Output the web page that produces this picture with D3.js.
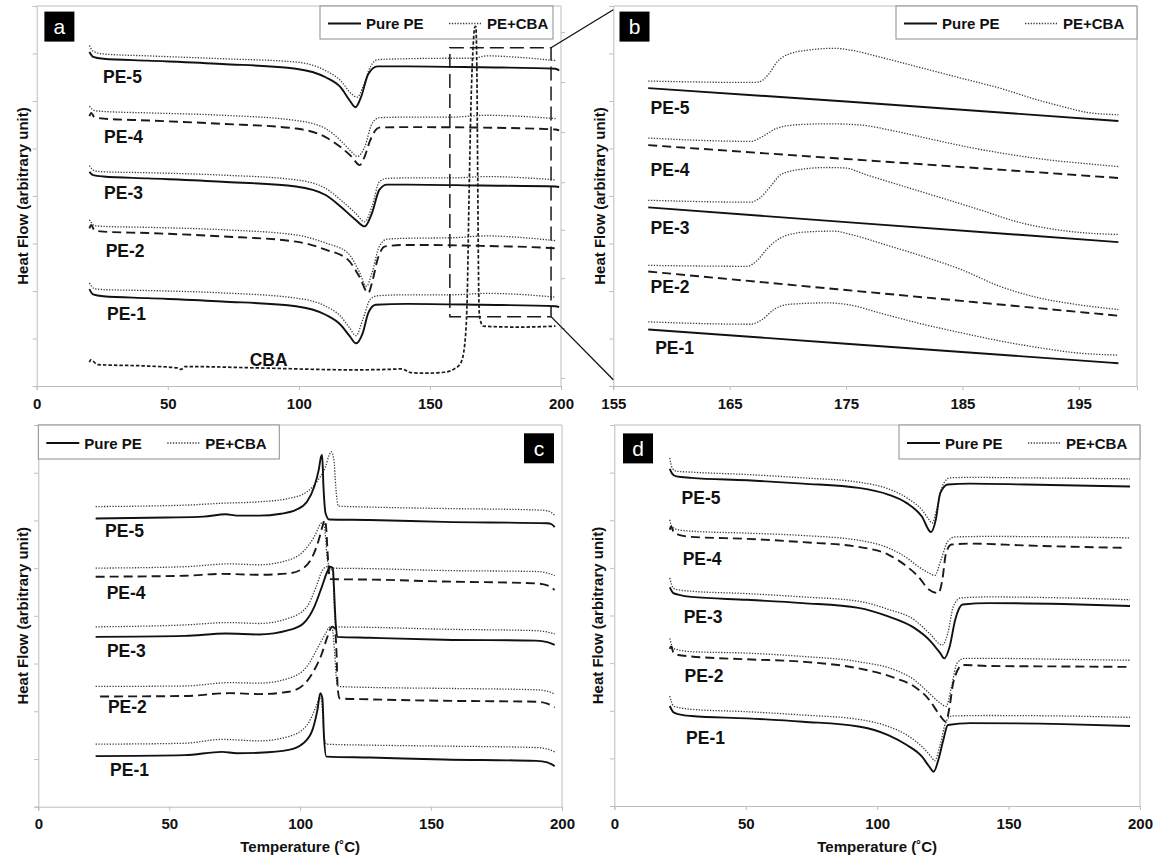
<!DOCTYPE html>
<html><head><meta charset="utf-8">
<script src="https://cdnjs.cloudflare.com/ajax/libs/d3/7.8.5/d3.min.js"></script>
<style>body{margin:0;background:#fff;} svg{display:block;} text{font-family:"Liberation Sans",Arial,sans-serif;}</style>
</head><body><svg id="chart" width="1161" height="855"></svg>
<script>
// ---------------- DATA ----------------
const xTicksMain = [0, 50, 100, 150, 200];
const xTicksZoom = [155, 165, 175, 185, 195];
const yTicks = [0, 1, 2, 3, 4, 5, 6, 7, 8];
const a_rightTicks = [0.17, 1.22, 2.27, 3.29, 4.29, 5.35, 6.40, 7.45];
const sampleNames = ["PE-5", "PE-4", "PE-3", "PE-2", "PE-1"];
const legendNames = ["Pure PE", "PE+CBA"];
const panelTags = ["a", "b", "c", "d"];
const yTitle = "Heat Flow (arbitrary unit)";
const xTitle = "Temperature (˚C)";

// Panel a : heating scans 0-200 C  [T, heat flow (arb.)]
const a_PE5_pure = [[20.1,7.03],[21.5,6.93],[25.4,6.89],[42.4,6.85],[70.7,6.78],[98.9,6.68],[110.2,6.50],[115.9,6.29],[119.4,6.01],[121.6,5.87],[123.7,6.08],[126.5,6.57],[130.0,6.73],[141.3,6.73],[169.6,6.71],[197.9,6.68],[199.3,6.64]];
const a_PE5_cba = [[20.1,7.17],[21.5,7.05],[25.4,6.99],[42.4,6.95],[70.7,6.89],[98.9,6.82],[110.2,6.64],[115.9,6.43],[120.1,6.15],[122.3,6.08],[124.4,6.29],[127.2,6.71],[130.0,6.87],[141.3,6.89],[158.3,6.90],[166,6.90],[172,6.95],[183.7,6.92],[197.9,6.85]];
const a_PE4_pure = [[20.1,5.68],[20.8,5.75],[22,5.66],[25.4,5.63],[42.4,5.59],[70.7,5.52],[98.9,5.42],[110.2,5.24],[115.9,5.03],[120.1,4.83],[123.2,4.65],[125.1,4.83],[127.2,5.17],[130.7,5.44],[141.3,5.45],[169.6,5.44],[197.9,5.40],[199.3,5.38]];
const a_PE4_cba = [[20.1,5.89],[22,5.80],[25.4,5.78],[42.4,5.75],[70.7,5.70],[98.9,5.59],[110.2,5.42],[115.9,5.17],[120.1,4.93],[122.3,4.83],[125.1,5.03],[127.9,5.52],[130.7,5.65],[141.3,5.66],[158,5.66],[172,5.70],[183.7,5.68],[197.9,5.63]];
const a_PE3_pure = [[20.1,4.51],[21.5,4.44],[25.4,4.41],[42.4,4.37],[70.7,4.30],[98.9,4.20],[110.2,4.02],[115.9,3.78],[121.6,3.50],[125.1,3.36],[127.9,3.64],[130.7,4.13],[133.6,4.24],[141.3,4.24],[169.6,4.22],[197.9,4.20],[199.3,4.19]];
const a_PE3_cba = [[20.1,4.64],[22,4.53],[25.4,4.51],[42.4,4.49],[70.7,4.44],[98.9,4.34],[110.2,4.16],[115.9,3.92],[121.6,3.64],[125.1,3.46],[127.9,3.78],[130.7,4.30],[133.6,4.37],[141.3,4.38],[158,4.38],[172,4.41],[183.7,4.39],[197.9,4.34]];
const a_PE2_pure = [[20.1,3.32],[20.8,3.39],[22,3.28],[25.4,3.25],[42.4,3.22],[70.7,3.15],[98.9,3.04],[110.2,2.87],[118.7,2.66],[123.0,2.31],[126.5,1.96],[127.9,2.17],[130.0,2.66],[132.9,2.94],[141.3,2.97],[169.6,2.95],[197.9,2.90],[199.3,2.89]];
const a_PE2_cba = [[20.1,3.50],[22,3.38],[25.4,3.36],[42.4,3.34],[70.7,3.29],[98.9,3.18],[110.2,3.01],[118.7,2.80],[123.0,2.41],[125.8,2.10],[127.9,2.38],[130.7,2.94],[133.6,3.09],[141.3,3.11],[158,3.12],[172,3.16],[183.7,3.13],[197.9,3.06]];
const a_PE1_pure = [[20.1,2.04],[21.5,1.93],[25.4,1.89],[42.4,1.85],[70.7,1.78],[98.9,1.68],[110.2,1.50],[115.9,1.29],[119.4,1.05],[121.8,0.90],[124.4,1.12],[126.5,1.54],[129.3,1.71],[141.3,1.73],[169.6,1.71],[197.9,1.68],[199.3,1.66]];
const a_PE1_cba = [[20.1,2.17],[22,2.05],[25.4,2.03],[42.4,2.01],[70.7,1.96],[98.9,1.85],[110.2,1.68],[115.9,1.47],[119.4,1.22],[121.8,1.06],[124.4,1.40],[127.2,1.82],[130.0,1.90],[141.3,1.92],[158,1.92],[172,1.95],[183.7,1.93],[197.9,1.87]];
const a_CBA = [[20.1,0.50],[20.6,0.55],[23.3,0.45],[42.4,0.42],[53.7,0.38],[55.1,0.35],[56.5,0.41],[84.8,0.38],[120.1,0.34],[134.3,0.35],[139.2,0.36],[142.8,0.28],[148.4,0.27],[155.5,0.29],[159.0,0.35],[161.8,0.49],[163.2,0.84],[164.2,1.82],[164.9,3.92],[165.7,6.01],[166.4,7.06],[167.1,7.55],[167.5,7.57],[167.9,6.71],[168.2,4.62],[168.5,2.52],[168.9,1.47],[170.3,1.26],[183.7,1.24],[197.9,1.26]];
const a_zoomBox = [157.6, 196.2, 1.46, 7.12];   // T1, T2, low, high

// Panel b : detail 155-200 C
const b_PE5_pure = [[158,6.27],[175,5.99],[198.4,5.58]];
const b_PE5_cba = [[158.0,6.42],[166.8,6.39],[167.5,6.40],[168.3,6.55],[169.1,6.83],[170.1,6.99],[171.7,7.07],[174.0,7.11],[175.4,7.07],[178.3,6.90],[181.6,6.69],[184.9,6.48],[188.2,6.27],[191.5,6.02],[193.8,5.87],[195.7,5.76],[198.4,5.71]];
const b_PE4_pure = [[158,5.07],[175,4.78],[198.4,4.38]];
const b_PE4_cba = [[158,5.22],[166.8,5.15],[167.8,5.25],[169.1,5.43],[170.8,5.50],[173.4,5.52],[176.0,5.50],[179.3,5.36],[182.6,5.18],[185.9,5.01],[189.2,4.87],[192.4,4.76],[195.7,4.68],[198.4,4.62]];
const b_PE3_pure = [[158,3.76],[175,3.45],[198.4,3.03]];
const b_PE3_cba = [[158,3.91],[166.8,3.87],[167.6,3.96],[168.5,4.20],[169.4,4.45],[170.8,4.55],[173.4,4.60],[174.9,4.59],[176.7,4.45],[180.0,4.20],[183.2,3.96],[186.5,3.71],[189.8,3.45],[193.1,3.29],[195.7,3.22],[198.4,3.19]];
const b_PE2_pure = [[158,2.41],[175,2.02],[198.4,1.48]];
const b_PE2_cba = [[158,2.54],[166.5,2.52],[167.3,2.63],[168.3,2.91],[169.4,3.12],[171.4,3.24],[174.0,3.26],[175.4,3.19],[178.3,2.98],[181.6,2.73],[184.9,2.45],[188.2,2.10],[191.5,1.86],[194.7,1.72],[198.4,1.61]];
const b_PE1_pure = [[158,1.19],[175,0.89],[198.4,0.48]];
const b_PE1_cba = [[158,1.35],[166.8,1.30],[167.8,1.40],[168.8,1.61],[170.1,1.72],[173.4,1.75],[175.0,1.72],[178.3,1.51],[181.6,1.30],[184.9,1.12],[188.2,0.95],[191.5,0.81],[194.7,0.70],[198.4,0.65]];

// Panel c : cooling scans
const c_PE5_pure = [[21.9,6.04],[49.0,6.06],[63.1,6.08],[71.6,6.13],[75.8,6.10],[84.3,6.10],[92.7,6.14],[98.4,6.22],[102.6,6.39],[105.4,6.71],[107.1,7.06],[108.0,7.34],[108.4,7.37],[108.9,6.71],[109.7,6.15],[111.1,6.02],[126.6,6.01],[154.8,5.97],[194.4,5.94],[196,5.92],[197.2,5.86]];
const c_PE5_cba = [[21.9,6.29],[56.0,6.32],[70.1,6.36],[84.3,6.39],[95.6,6.46],[102.6,6.60],[106.9,6.85],[109.7,7.13],[111.1,7.37],[111.8,7.44],[112.9,7.27],[113.6,6.71],[114.6,6.30],[126.6,6.28],[154.8,6.25],[190.1,6.22],[194.4,6.20],[197.2,6.11]];
const c_PE4_pure = [[21.9,4.82],[56.0,4.84],[70.1,4.88],[84.3,4.86],[95.6,4.89],[101.2,5.00],[104.7,5.24],[107.1,5.59],[108.5,5.87],[109.4,6.01],[110.0,5.80],[110.5,5.31],[111.4,4.77],[126.6,4.76],[154.8,4.72],[190.1,4.68],[194.4,4.64],[197.2,4.54]];
const c_PE4_cba = [[21.9,5.00],[56.0,5.03],[73.0,5.09],[84.3,5.07],[95.6,5.17],[101.2,5.35],[105.4,5.66],[108.0,5.94],[108.9,5.97],[109.7,5.66],[110.4,5.17],[111.8,5.00],[126.6,4.99],[154.8,4.95],[190.1,4.93],[194.4,4.90],[197.2,4.84]];
const c_PE3_pure = [[21.9,3.56],[56.0,3.58],[71.6,3.63],[84.3,3.61],[95.6,3.70],[101.2,3.84],[105.4,4.19],[108.3,4.61],[110.4,4.93],[111.5,5.03],[112.5,5.00],[112.9,4.61],[113.5,3.91],[114.2,3.56],[126.6,3.54],[154.8,3.50],[190.1,3.48],[194.4,3.45],[197.2,3.39]];
const c_PE3_cba = [[21.9,3.77],[56.0,3.81],[73.0,3.86],[84.3,3.84],[95.6,3.95],[102.6,4.19],[106.1,4.61],[108.3,4.93],[110.0,5.03],[111.1,4.98],[112.5,4.95],[113.0,4.20],[113.6,3.77],[126.6,3.76],[154.8,3.72],[190.1,3.69],[194.4,3.66],[197.2,3.62]];
const c_PE2_pure = [[23.6,2.31],[56.0,2.32],[73.0,2.38],[84.3,2.36],[95.6,2.41],[101.2,2.55],[104.7,2.80],[108.3,3.21],[110.4,3.56],[112.2,3.77],[113.2,3.74],[113.9,3.21],[114.3,2.52],[115.0,2.27],[126.6,2.25],[154.8,2.22],[190.1,2.20],[194.4,2.16],[197.2,2.08]];
const c_PE2_cba = [[21.9,2.52],[56.0,2.53],[73.0,2.60],[84.3,2.59],[95.6,2.69],[102.6,2.94],[106.9,3.35],[109.7,3.63],[111.4,3.77],[112.2,3.74],[113.2,3.21],[113.9,2.66],[114.6,2.52],[126.6,2.50],[154.8,2.48],[190.1,2.45],[194.4,2.42],[197.2,2.36]];
const c_PE1_pure = [[21.9,1.06],[56.0,1.08],[70.1,1.15],[75.8,1.12],[84.3,1.13],[95.6,1.19],[101.2,1.33],[104.7,1.61],[106.6,2.03],[107.7,2.38],[108.5,2.27],[109.1,1.47],[110.0,1.05],[126.6,1.03],[154.8,0.99],[190.1,0.96],[194.4,0.93],[197.2,0.85]];
const c_PE1_cba = [[21.9,1.31],[56.0,1.33],[70.1,1.41],[84.3,1.38],[95.6,1.47],[102.6,1.71],[106.1,2.10],[107.7,2.31],[108.5,2.03],[109.1,1.47],[110.0,1.31],[126.6,1.29],[154.8,1.27],[190.1,1.24],[194.4,1.21],[197.2,1.15]];

// Panel d : second heating
const d_PE5_pure = [[21.1,7.08],[22,6.98],[23.6,6.92],[29.3,6.89],[50.5,6.84],[71.7,6.77],[92.9,6.68],[104.2,6.54],[111.3,6.36],[117.0,6.08],[120.5,5.75],[122.3,6.01],[124.0,6.57],[126.9,6.75],[135.4,6.77],[156.6,6.75],[196.2,6.71]];
const d_PE5_cba = [[21.1,7.31],[22,7.10],[23.6,7.03],[29.3,7.01],[50.5,6.96],[71.7,6.89],[92.9,6.80],[104.2,6.66],[111.3,6.47],[117.0,6.22],[119.8,6.01],[120.9,5.94],[122.6,6.22],[124.8,6.71],[127.6,6.89],[135.4,6.90],[156.6,6.89],[196.2,6.87]];
const d_PE4_pure = [[21.1,5.80],[21.6,5.87],[22.5,5.76],[24.3,5.70],[29.3,5.65],[50.5,5.61],[71.7,5.54],[92.9,5.44],[104.2,5.28],[111.3,5.03],[115.6,4.82],[119.8,4.54],[123.3,4.47],[124.8,4.75],[126.2,5.31],[128.3,5.49],[135.4,5.51],[156.6,5.47],[194.1,5.42]];
const d_PE4_cba = [[21.1,6.01],[22,5.86],[24.3,5.80],[29.3,5.77],[50.5,5.73],[71.7,5.68],[92.9,5.58],[104.2,5.42],[111.3,5.21],[115.6,5.03],[119.8,4.89],[121.9,4.84],[124.3,5.17],[126.9,5.56],[129.7,5.65],[142.4,5.66],[170.7,5.65],[196.2,5.63]];
const d_PE3_pure = [[21.1,4.59],[22.5,4.47],[24.3,4.44],[29.3,4.39],[50.5,4.33],[71.7,4.26],[92.9,4.16],[104.2,3.98],[114.1,3.74],[119.8,3.49],[124.0,3.21],[125.5,3.10],[127.6,3.35],[129.7,3.91],[132.5,4.23],[142.4,4.26],[170.7,4.24],[196.2,4.20]];
const d_PE3_cba = [[21.1,4.79],[22.5,4.57],[24.3,4.54],[29.3,4.51],[50.5,4.46],[71.7,4.39],[92.9,4.30],[104.2,4.13],[114.1,3.91],[119.8,3.63],[124.8,3.38],[126.9,3.63],[129.0,4.19],[131.8,4.37],[142.4,4.39],[170.7,4.37],[196.2,4.33]];
const d_PE2_pure = [[21.1,3.30],[21.6,3.35],[22.5,3.22],[24.3,3.17],[29.3,3.14],[50.5,3.08],[71.7,3.03],[92.9,2.89],[107.1,2.68],[114.1,2.51],[119.8,2.23],[123.3,1.95],[126.2,1.77],[127.6,2.10],[129.0,2.60],[132.5,2.96],[142.4,2.94],[170.7,2.93],[196.2,2.92]];
const d_PE2_cba = [[21.1,3.52],[22.5,3.31],[24.3,3.28],[29.3,3.24],[50.5,3.21],[71.7,3.14],[92.9,3.03],[107.1,2.85],[114.1,2.65],[119.8,2.37],[124.0,2.16],[126.2,2.09],[128.3,2.51],[130.4,3.00],[133.2,3.10],[142.4,3.10],[170.7,3.08],[196.2,3.06]];
const d_PE1_pure = [[21.1,2.10],[22.5,1.97],[24.3,1.93],[29.3,1.89],[50.5,1.84],[71.7,1.77],[92.9,1.67],[104.2,1.49],[111.3,1.28],[117.0,1.04],[119.8,0.83],[121.5,0.72],[123.3,0.97],[125.2,1.39],[126.9,1.70],[135.4,1.74],[170.7,1.72],[196.2,1.68]];
const d_PE1_cba = [[21.1,2.31],[22.5,2.10],[24.3,2.07],[29.3,2.03],[50.5,1.98],[71.7,1.91],[92.9,1.82],[104.2,1.67],[111.3,1.49],[117.0,1.25],[120.5,1.04],[121.9,0.95],[123.8,1.25],[126.2,1.77],[128.3,1.89],[142.4,1.90],[170.7,1.89],[196.2,1.86]];

// label anchor positions in data units [T, value]
const a_labelPos = [[25.3,6.51],[25.7,5.24],[25.7,4.06],[26.3,2.84],[26.8,1.52]];
const b_labelPos = [[158.2,5.85],[158.2,4.55],[158.2,3.33],[158.2,2.08],[158.6,0.80]];
const c_labelPos = [[25.5,5.77],[26.1,4.48],[26.2,3.27],[26.6,2.10],[27.4,0.77]];
const d_labelPos = [[25.6,6.47],[26.0,5.19],[26.4,3.97],[26.7,2.72],[27.3,1.43]];

// ---------------- DRAWING ----------------
const svg = d3.select("#chart");
const STY = {
  solid:  {stroke:"#111", w:1.9, dash:null},
  dashed: {stroke:"#1a1a1a", w:1.9, dash:"9,5"},
  dotted: {stroke:"#3c3c3c", w:1.3, dash:"1.3,1.5"},
  cba:    {stroke:"#1a1a1a", w:1.7, dash:"3.5,2"}
};
const GRID = "#bdbdbd";

function panel(cfg) {
  const x = d3.scaleLinear().domain(cfg.xDomain).range([cfg.left, cfg.right]);
  const y = d3.scaleLinear().domain([0, 8]).range([cfg.bottom, cfg.top]);
  const g = svg.append("g");
  // frame top / right
  g.append("line").attr("x1", cfg.left).attr("x2", cfg.right).attr("y1", cfg.top).attr("y2", cfg.top).attr("stroke", GRID);
  g.append("line").attr("x1", cfg.right).attr("x2", cfg.right).attr("y1", cfg.top).attr("y2", cfg.bottom).attr("stroke", GRID);
  // axes
  const ax = g.append("g").attr("transform", `translate(0,${cfg.bottom})`)
    .call(d3.axisBottom(x).tickValues(cfg.xTicks).tickSize(4).tickPadding(8).tickFormat(d3.format("d")));
  ax.select(".domain").attr("stroke", GRID);
  ax.selectAll(".tick line").attr("stroke", GRID);
  ax.selectAll(".tick text").attr("font-family", "Liberation Sans, Arial, sans-serif").attr("font-size", 15).attr("font-weight", "bold").attr("fill", "#111");
  const ay = g.append("g").attr("transform", `translate(${cfg.left},0)`)
    .call(d3.axisLeft(y).tickValues(yTicks).tickSize(4).tickFormat(""));
  ay.select(".domain").attr("stroke", GRID);
  ay.selectAll(".tick line").attr("stroke", GRID);
  if (cfg.rightTicks) {
    const ar = g.append("g").attr("transform", `translate(${cfg.right},0)`)
      .call(d3.axisRight(y).tickValues(cfg.rightTicks).tickSize(4).tickFormat(""));
    ar.select(".domain").remove();
    ar.selectAll(".tick line").attr("stroke", GRID);
  }
  // y title
  g.append("text").attr("transform", `translate(${cfg.yTitleX},${(cfg.top + cfg.bottom) / 2}) rotate(-90)`)
    .attr("text-anchor", "middle").attr("dominant-baseline", "central")
    .attr("font-size", 15).attr("font-weight", "bold").attr("fill", "#111").text(yTitle);
  if (cfg.xTitle) {
    g.append("text").attr("x", (cfg.left + cfg.right) / 2).attr("y", cfg.bottom + 40)
      .attr("text-anchor", "middle").attr("dominant-baseline", "central")
      .attr("font-size", 15).attr("font-weight", "bold").attr("fill", "#111").text(xTitle);
  }
  // legend (under curves)
  const L = cfg.legend;
  g.append("rect").attr("x", L[0]).attr("y", L[1]).attr("width", L[2]).attr("height", L[3])
    .attr("fill", "#fff").attr("stroke", "#8c8c8c").attr("stroke-width", 1);
  const ly = L[1] + L[3] / 2 + 1;
  g.append("line").attr("x1", L[0] + 8).attr("x2", L[0] + 41).attr("y1", ly).attr("y2", ly)
    .attr("stroke", STY.solid.stroke).attr("stroke-width", 2);
  g.append("text").attr("x", L[0] + 46).attr("y", ly).attr("dominant-baseline", "central")
    .attr("font-size", 15).attr("font-weight", "bold").attr("fill", "#111").text(legendNames[0]);
  g.append("line").attr("x1", L[0] + 129).attr("x2", L[0] + 161).attr("y1", ly).attr("y2", ly)
    .attr("stroke", STY.dotted.stroke).attr("stroke-width", 1.3).attr("stroke-dasharray", STY.dotted.dash);
  g.append("text").attr("x", L[0] + 167).attr("y", ly).attr("dominant-baseline", "central")
    .attr("font-size", 15).attr("font-weight", "bold").attr("fill", "#111").text(legendNames[1]);
  // curves
  const line = d3.line().x(d => x(d[0])).y(d => y(d[1])).curve(d3.curveMonotoneX);
  cfg.curves.forEach(c => {
    const s = STY[c.style];
    g.append("path").attr("d", line(c.data)).attr("fill", "none")
      .attr("stroke", s.stroke).attr("stroke-width", s.w)
      .attr("stroke-dasharray", s.dash).attr("stroke-linejoin", "round");
  });
  // sample labels
  cfg.labelPos.forEach((p, i) => {
    g.append("text").attr("x", x(p[0])).attr("y", y(p[1])).attr("dominant-baseline", "central")
      .attr("font-size", 17.5).attr("font-weight", "bold").attr("fill", "#111").text(sampleNames[i]);
  });
  // tag box
  const T = cfg.tag;
  g.append("rect").attr("x", T[0]).attr("y", T[1]).attr("width", 30).attr("height", 30).attr("fill", "#000");
  g.append("text").attr("x", T[0] + 15).attr("y", T[1] + 15).attr("text-anchor", "middle").attr("dominant-baseline", "central")
    .attr("font-family", "Open Sans, sans-serif").attr("font-size", 21).attr("fill", "#fff").text(T[2]);
  return {x, y, g};
}

const A = panel({left:36.7, right:561, top:6, bottom:386, xDomain:[0,200], xTicks:xTicksMain, yTitleX:22, rightTicks:a_rightTicks,
  curves:[
    {data:a_PE5_cba, style:"dotted"},{data:a_PE5_pure, style:"solid"},
    {data:a_PE4_cba, style:"dotted"},{data:a_PE4_pure, style:"dashed"},
    {data:a_PE3_cba, style:"dotted"},{data:a_PE3_pure, style:"solid"},
    {data:a_PE2_cba, style:"dotted"},{data:a_PE2_pure, style:"dashed"},
    {data:a_PE1_cba, style:"dotted"},{data:a_PE1_pure, style:"solid"},
    {data:a_CBA, style:"cba"}],
  labelPos:a_labelPos, legend:[320, 6, 233, 33], tag:[44.4, 11.6, panelTags[0]]});
A.g.append("text").attr("x", A.x(88.5)).attr("y", A.y(0.55)).attr("text-anchor", "middle").attr("dominant-baseline", "central")
  .attr("font-size", 17.5).attr("font-weight", "bold").attr("fill", "#111").text("CBA");

const B = panel({left:613.3, right:1137, top:6, bottom:386, xDomain:[155,200], xTicks:xTicksZoom, yTitleX:599,
  curves:[
    {data:b_PE5_cba, style:"dotted"},{data:b_PE5_pure, style:"solid"},
    {data:b_PE4_cba, style:"dotted"},{data:b_PE4_pure, style:"dashed"},
    {data:b_PE3_cba, style:"dotted"},{data:b_PE3_pure, style:"solid"},
    {data:b_PE2_cba, style:"dotted"},{data:b_PE2_pure, style:"dashed"},
    {data:b_PE1_cba, style:"dotted"},{data:b_PE1_pure, style:"solid"}],
  labelPos:b_labelPos, legend:[896, 6, 241, 33], tag:[619.5, 11.6, panelTags[1]]});

// zoom rectangle in a and connectors to b
const zb = a_zoomBox;
A.g.append("rect").attr("x", A.x(zb[0])).attr("y", A.y(zb[3])).attr("width", A.x(zb[1]) - A.x(zb[0])).attr("height", A.y(zb[2]) - A.y(zb[3]))
  .attr("fill", "none").attr("stroke", "#1a1a1a").attr("stroke-width", 1.5).attr("stroke-dasharray", "14,6");
svg.append("line").attr("x1", A.x(zb[1])).attr("y1", A.y(zb[3])).attr("x2", B.x(155)).attr("y2", B.y(7.92)).attr("stroke", "#111").attr("stroke-width", 1.3);
svg.append("line").attr("x1", A.x(zb[1])).attr("y1", A.y(zb[2])).attr("x2", B.x(155)).attr("y2", B.y(0.13)).attr("stroke", "#111").attr("stroke-width", 1.3);

panel({left:38.3, right:562, top:425, bottom:806.7, xDomain:[0,200], xTicks:xTicksMain, yTitleX:22, xTitle:true,
  curves:[
    {data:c_PE5_cba, style:"dotted"},{data:c_PE5_pure, style:"solid"},
    {data:c_PE4_cba, style:"dotted"},{data:c_PE4_pure, style:"dashed"},
    {data:c_PE3_cba, style:"dotted"},{data:c_PE3_pure, style:"solid"},
    {data:c_PE2_cba, style:"dotted"},{data:c_PE2_pure, style:"dashed"},
    {data:c_PE1_cba, style:"dotted"},{data:c_PE1_pure, style:"solid"}],
  labelPos:c_labelPos, legend:[38.3, 425, 241, 34], tag:[524, 433.3, panelTags[2]]});

panel({left:614.3, right:1140, top:425, bottom:806, xDomain:[0,200], xTicks:xTicksMain, yTitleX:597, xTitle:true,
  curves:[
    {data:d_PE5_cba, style:"dotted"},{data:d_PE5_pure, style:"solid"},
    {data:d_PE4_cba, style:"dotted"},{data:d_PE4_pure, style:"dashed"},
    {data:d_PE3_cba, style:"dotted"},{data:d_PE3_pure, style:"solid"},
    {data:d_PE2_cba, style:"dotted"},{data:d_PE2_pure, style:"dashed"},
    {data:d_PE1_cba, style:"dotted"},{data:d_PE1_pure, style:"solid"}],
  labelPos:d_labelPos, legend:[899, 425, 241, 34], tag:[623, 433.4, panelTags[3]]});
</script></body></html>
